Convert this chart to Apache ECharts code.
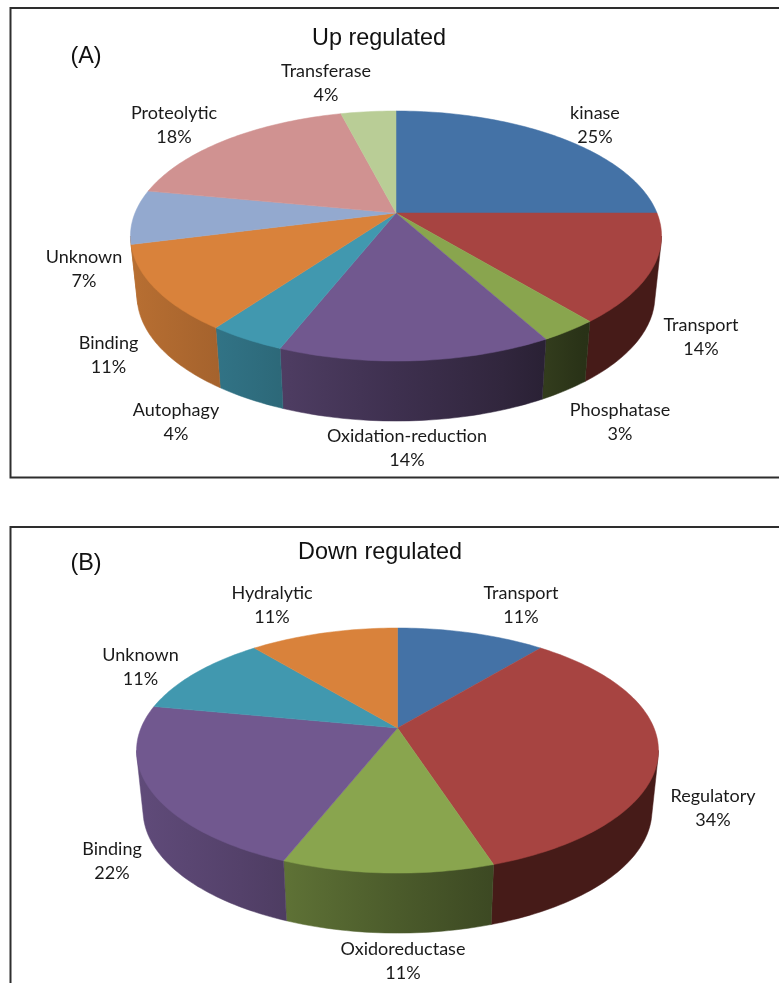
<!DOCTYPE html>
<html>
<head>
<meta charset="utf-8">
<style>html,body{margin:0;padding:0;background:#fff;overflow:hidden}#chart{width:779px;height:983px}</style>
<script src="https://cdn.jsdelivr.net/npm/echarts@6/dist/echarts.min.js"></script>
</head>
<body>
<div id="chart"></div>
<script>
// Up regulated proteins, by function (percent of total)
const upCategories = ['kinase', 'Transport', 'Phosphatase', 'Oxidation-reduction', 'Autophagy', 'Binding', 'Unknown', 'Proteolytic', 'Transferase'];
const upValues = [25, 14, 3, 14, 4, 11, 7, 18, 4];
const upColors = ['#4472a6', '#a74441', '#89a54e', '#71588f', '#4198af', '#d9823b', '#93a9cf', '#d09291', '#b9cd96'];

// Down regulated proteins, by function (percent of total)
const downCategories = ['Transport', 'Regulatory', 'Oxidoreductase', 'Binding', 'Unknown', 'Hydralytic'];
const downValues = [11, 34, 11, 22, 11, 11];
const downColors = ['#4472a6', '#a74441', '#89a54e', '#71588f', '#4198af', '#d9823b'];

// Label centres for each panel, in slice order
const upLabelAt = [[595, 125.5], [701, 337.5], [620, 422.5], [407, 448.5], [176, 422.5], [108.5, 355.5], [84, 269.5], [174, 125.5], [326, 83.5]];
const downLabelAt = [[521, 605.5], [713, 808.5], [403, 961.5], [112, 861.5], [140.5, 667.5], [272, 605.5]];

// Tilted-disc geometry: pivot, radius, foreshortened radius, perspective strength, rim depth
const panels = [
  { title: 'Up regulated', tag: '(A)', names: upCategories, values: upValues, colors: upColors, labelAt: upLabelAt,
    cx: 396, cy: 213, r: 261, ry: 120.8, k: 0.184, depth: 60, titleX: 379, titleY: 38.5, tagX: 86, tagY: 56.5, frameTop: 8, frameH: 469.5 },
  { title: 'Down regulated', tag: '(B)', names: downCategories, values: downValues, colors: downColors, labelAt: downLabelAt,
    cx: 397.5, cy: 728, r: 256.5, ry: 118.4, k: 0.184, depth: 60, titleX: 380, titleY: 553, tagX: 86, tagY: 564, frameTop: 527, frameH: 520 }
];

// Rim shading from left (x = -1) to right (x = 1) of the disc
const rimShade = [[-1, 0.85], [-0.6, 0.74], [-0.4, 0.68], [0, 0.55], [0.4, 0.43], [0.55, 0.37], [0.7, 0.3], [1, 0.27]];
// The red rim stays evenly dark across its whole width
const flatRimColors = { '#a74441': '#461b18' };
// A slice whose rim shows for less than this share before the left silhouette takes the rim colour of its neighbour
const MIN_RIM_SHARE = 6;

const LABEL_FONT = '18px Lato, "Open Sans", sans-serif';
const TITLE_FONT = '23.4px "Liberation Sans", Arial, sans-serif';

function shade(hex, f) {
  const n = parseInt(hex.slice(1), 16);
  const c = [n >> 16, (n >> 8) & 255, n & 255].map(v => Math.round(v * f));
  return 'rgb(' + c.join(',') + ')';
}

function totalOf(p) {
  return p.values.reduce((s, v) => s + v, 0);
}

// Project a share of the full turn (0 at twelve o'clock, clockwise) onto the top face
function project(p, turn) {
  const a = turn * 2 * Math.PI;
  const u = Math.sin(a), v = -Math.cos(a);
  const d = 1 - p.k * v;
  return [p.cx + p.r * u / d, p.cy + p.ry * v / d];
}

function lowerRim(p, pt) {
  return [p.cx + (pt[0] - p.cx) * 0.975, pt[1] + p.depth];
}

function arc(p, from, to) {
  const total = totalOf(p);
  const steps = Math.max(6, Math.ceil((to - from) * 3));
  const pts = [];
  for (let i = 0; i <= steps; i++) {
    pts.push(project(p, (from + (to - from) * i / steps) / total));
  }
  return pts;
}

function sliceSpan(p, idx) {
  let from = 0;
  for (let i = 0; i < idx; i++) from += p.values[i];
  return [from, from + p.values[idx]];
}

// Turn shares at which the disc is widest: the rim is only visible between them
function visibleRange(p) {
  const total = totalOf(p);
  const t = Math.acos(-p.k) / (2 * Math.PI);
  return [t * total, (1 - t) * total];
}

function convexHull(points) {
  const pts = points.slice().sort((a, b) => a[0] - b[0] || a[1] - b[1]);
  const cross = (o, a, b) => (a[0] - o[0]) * (b[1] - o[1]) - (a[1] - o[1]) * (b[0] - o[0]);
  const walk = list => {
    const out = [];
    list.forEach(pt => {
      while (out.length > 1 && cross(out[out.length - 2], out[out.length - 1], pt) <= 0) out.pop();
      out.push(pt);
    });
    out.pop();
    return out;
  };
  return walk(pts).concat(walk(pts.slice().reverse()));
}

function rimFill(p, color) {
  if (flatRimColors[color]) return flatRimColors[color];
  const w = p.r * 1.02;
  const stops = rimShade.map(s => ({ offset: (s[0] + 1) / 2, color: shade(color, s[1]) }));
  return new echarts.graphic.LinearGradient(p.cx - w, 0, p.cx + w, 0, stops, true);
}

// Each rim piece is the hull of its upper and lower edges; the top face hides whatever lies inside the disc
function rimSeries(p) {
  const range = visibleRange(p);
  return {
    type: 'custom', coordinateSystem: 'none', silent: true, animation: false, z: 1,
    data: p.values.map(v => [v]),
    renderItem(params) {
      const i = params.dataIndex;
      const span = sliceSpan(p, i);
      const from = Math.max(span[0], range[0]);
      const to = Math.min(span[1], range[1]);
      if (to <= from) return null;
      const clippedAtLeft = span[1] > range[1];
      const color = clippedAtLeft && to - from < MIN_RIM_SHARE ? p.colors[i - 1] : p.colors[i];
      const upper = arc(p, from, to);
      const fill = rimFill(p, color);
      return {
        type: 'polygon',
        shape: { points: convexHull(upper.concat(upper.map(pt => lowerRim(p, pt)))) },
        style: { fill: fill, stroke: fill, lineWidth: 0.5 }
      };
    }
  };
}

function faceSeries(p) {
  return {
    type: 'custom', coordinateSystem: 'none', silent: true, animation: false, z: 2,
    data: p.values.map(v => [v]),
    renderItem(params) {
      const c = p.colors[params.dataIndex];
      const span = sliceSpan(p, params.dataIndex);
      return { type: 'polygon', shape: { points: [[p.cx, p.cy]].concat(arc(p, span[0], span[1])) }, style: { fill: c, stroke: c, lineWidth: 0.5 } };
    }
  };
}

function labelSeries(p) {
  return {
    type: 'custom', coordinateSystem: 'none', silent: true, animation: false, z: 3,
    data: p.values.map(v => [v]),
    renderItem(params) {
      const i = params.dataIndex;
      return {
        type: 'text',
        style: {
          x: p.labelAt[i][0], y: p.labelAt[i][1],
          text: p.names[i] + '\n' + p.values[i] + '%',
          font: LABEL_FONT, fill: '#1a1a1a', align: 'center', verticalAlign: 'middle', lineHeight: 24
        }
      };
    }
  };
}

const graphics = [];
panels.forEach(p => {
  graphics.push({ type: 'rect', shape: { x: 10.5, y: p.frameTop, width: 820, height: p.frameH }, style: { fill: 'none', stroke: '#2e2e2e', lineWidth: 2 }, z: 0 });
  graphics.push({ type: 'text', x: p.titleX, y: p.titleY, style: { text: p.title, font: TITLE_FONT, fill: '#111', align: 'center', verticalAlign: 'middle' }, z: 5 });
  graphics.push({ type: 'text', x: p.tagX, y: p.tagY, style: { text: p.tag, font: TITLE_FONT, fill: '#111', align: 'center', verticalAlign: 'middle' }, z: 5 });
});

const chart = echarts.init(document.getElementById('chart'), null, { renderer: 'canvas' });
chart.setOption({
  backgroundColor: '#ffffff',
  animation: false,
  graphic: graphics,
  series: panels.flatMap(p => [rimSeries(p), faceSeries(p), labelSeries(p)])
});
</script>
</body>
</html>
